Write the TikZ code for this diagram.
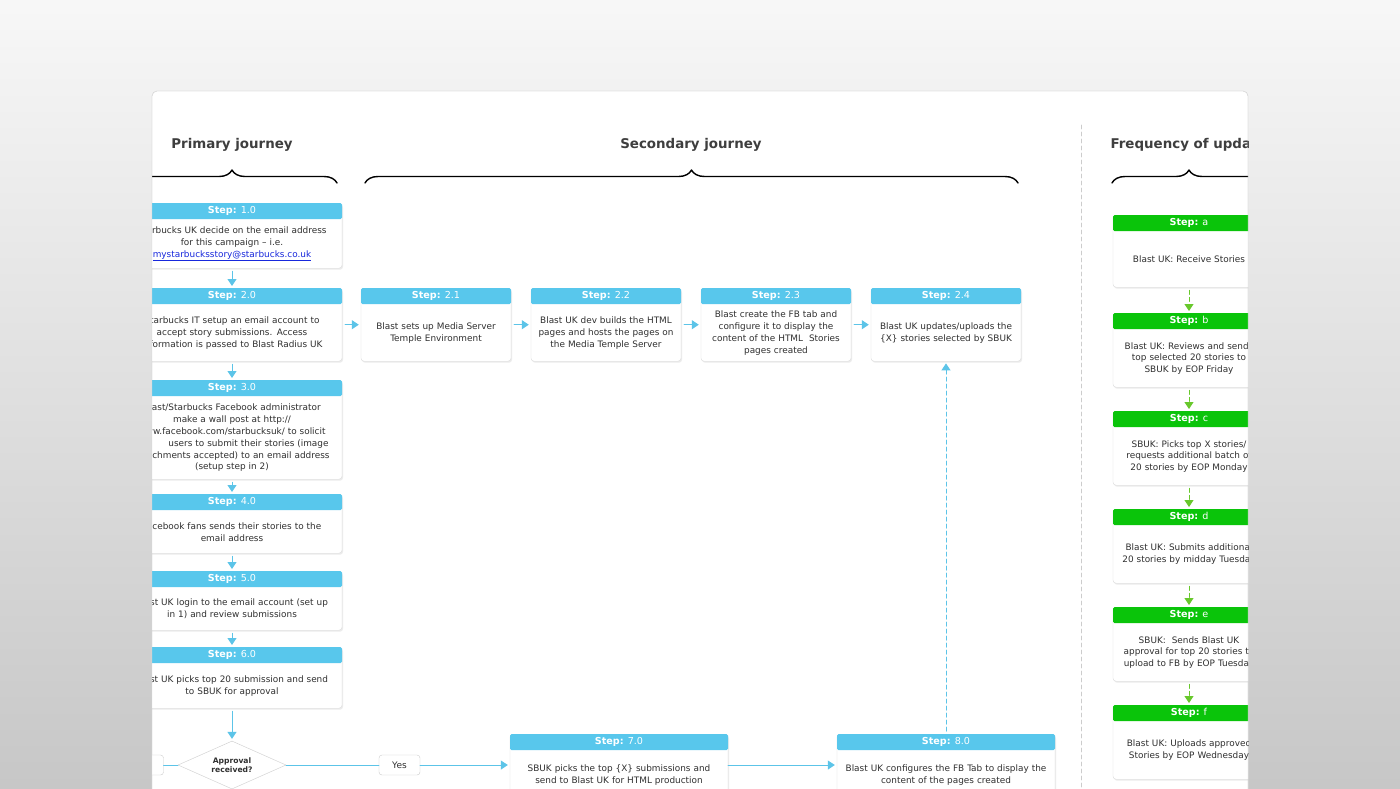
\documentclass[tikz,border=0pt]{standalone}
\usepackage{fontspec}
\setmainfont{DejaVu Sans}
\usetikzlibrary{positioning,calc,shapes.geometric,shadows,decorations.pathreplacing,arrows.meta}
\definecolor{stepblue}{RGB}{88,199,236}
\definecolor{flowblue}{RGB}{92,196,232}
\definecolor{stepgreen}{RGB}{10,196,10}
\definecolor{flowgreen}{RGB}{104,200,44}
\definecolor{ink}{RGB}{48,48,48}
\definecolor{headink}{RGB}{62,62,62}
\definecolor{linkblue}{RGB}{24,40,220}
% name, centre x, top y, width, height, header colour, step label, text
\newcommand{\stepcard}[8]{%
  \pgfmathsetmacro\cardtw{#4-10}%
  \node[card,minimum width=#4,minimum height=#5,anchor=north] (#1) at (#2,#3) {};
  \node[cardhead,fill=#6,minimum width=#4,anchor=north] (#1h) at (#1.north) {\textbf{Step:} #7};
  \node[cardtext,text width=\cardtw pt] (#1t) at ($(#1h.south)!0.5!(#1.south)$) {#8};}
\begin{document}
\begin{tikzpicture}[x=1pt,y=-1pt,line join=round,line cap=round,>={Triangle[length=7pt,width=9pt]}]
	\tikzset{
		card/.style={draw=gray!28,fill=white,rounded corners=3pt,drop shadow={shadow xshift=1pt,shadow yshift=-1.5pt,opacity=0.15}},
		cardhead/.style={text=white,font=\fontsize{9.6}{11}\selectfont,minimum height=16,inner sep=0pt,rounded corners=1.5pt},
		cardtext/.style={text=ink,font=\fontsize{8.9}{11.8}\selectfont,align=center,inner sep=0pt},
		flow/.style={->,draw=flowblue,line width=1pt,shorten <=3pt,shorten >=2pt},
		flowdash/.style={flow,dash pattern=on 4pt off 3pt},
		greenflow/.style={->,draw=flowgreen,line width=1pt,dash pattern=on 4pt off 3pt,shorten <=3pt,shorten >=2pt},
		plainline/.style={draw=flowblue,line width=1pt},
		choice/.style={diamond,draw=gray!40,fill=white,aspect=2.25,minimum width=108,minimum height=48,inner sep=0pt,text=ink,font=\fontsize{7.6}{9.5}\selectfont\bfseries,align=center},
		answer/.style={draw=gray!40,fill=white,rounded corners=3pt,minimum width=41,minimum height=20,inner sep=0pt,text=ink,font=\fontsize{9}{10}\selectfont},
		heading/.style={text=headink,font=\fontsize{13.4}{16}\selectfont\bfseries},
		brace/.style={decorate,decoration={brace,amplitude=13pt},line width=1.4pt}
	}
	\useasboundingbox (0,0) rectangle (1400,788);
	\shade[top color=white!97!black,bottom color=black!22] (0,0) rectangle (1400,788);
	\draw[gray!30,fill=white,rounded corners=5pt] (152,91) rectangle (1248,820);
	\begin{scope}
		\clip (152,91) rectangle (1248,788);
		\node[heading] (primary) at (232,145) {Primary journey};
		\node[heading] (secondary) at (691,145) {Secondary journey};
		\node[heading,anchor=west] (frequency) at (1107,145) {Frequency of updates};
		\draw[brace] (127,183) -- (337,183);
		\draw[brace] (365,183) -- (1018,183);
		\draw[brace] (1112,183) -- (1266,183);
		\draw[gray!40,line width=0.8pt,dash pattern=on 4pt off 3pt] (1081,125) -- (1081,788);
		% primary journey
		\stepcard{s10}{232}{203}{220}{65}{stepblue}{1.0}{Starbucks UK decide on the email address\\for this campaign -- i.e.\\\textcolor{linkblue}{\underline{mystarbucksstory@starbucks.co.uk}}}
		\stepcard{s20}{232}{288}{220}{73}{stepblue}{2.0}{Starbucks IT setup an email account to\\accept story submissions. Access\\information is passed to Blast Radius UK}
		\stepcard{s30}{232}{380}{220}{99}{stepblue}{3.0}{Blast/Starbucks Facebook administrator\\make a wall post at http://\\www.facebook.com/starbucksuk/ to solicit\\\hspace*{33pt}users to submit their stories (image\\attachments accepted) to an email address\\(setup step in 2)}
		\stepcard{s40}{232}{494}{220}{59}{stepblue}{4.0}{Facebook fans sends their stories to the\\email address}
		\stepcard{s50}{232}{571}{220}{59}{stepblue}{5.0}{Blast UK login to the email account (set up\\in 1) and review submissions}
		\stepcard{s60}{232}{647}{220}{61}{stepblue}{6.0}{Blast UK picks top 20 submission and send\\to SBUK for approval}
		\node[choice] (approval) at (232,765) {Approval\\received?};
		\node[answer] (no) at (143,765) {};
		\node[answer] (yes) at (399.5,765) {Yes};
		% secondary journey
		\stepcard{s21}{436}{288}{150}{73}{stepblue}{2.1}{Blast sets up Media Server\\Temple Environment}
		\stepcard{s22}{606}{288}{150}{73}{stepblue}{2.2}{Blast UK dev builds the HTML\\pages and hosts the pages on\\the Media Temple Server}
		\stepcard{s23}{776}{288}{150}{73}{stepblue}{2.3}{Blast create the FB tab and\\configure it to display the\\content of the HTML\ \ Stories\\pages created}
		\stepcard{s24}{946}{288}{150}{73}{stepblue}{2.4}{Blast UK updates/uploads the\\\{X\} stories selected by SBUK}
		\stepcard{s70}{619}{734}{218}{65}{stepblue}{7.0}{SBUK picks the top \{X\} submissions and\\send to Blast UK for HTML production}
		\stepcard{s80}{946}{734}{218}{65}{stepblue}{8.0}{Blast UK configures the FB Tab to display the\\content of the pages created}
		% frequency of updates
		\stepcard{fa}{1189}{215}{152}{72}{stepgreen}{a}{Blast UK: Receive Stories}
		\stepcard{fb}{1189}{313}{152}{74}{stepgreen}{b}{Blast UK: Reviews and sends\\top selected 20 stories to\\SBUK by EOP Friday}
		\stepcard{fc}{1189}{411}{152}{74}{stepgreen}{c}{SBUK: Picks top X stories/\\requests additional batch of\\20 stories by EOP Monday}
		\stepcard{fd}{1189}{509}{152}{74}{stepgreen}{d}{Blast UK: Submits additional\\20 stories by midday Tuesday}
		\stepcard{fe}{1189}{607}{152}{74}{stepgreen}{e}{SBUK:\ \ Sends Blast UK\\approval for top 20 stories to\\upload to FB by EOP Tuesday}
		\stepcard{ff}{1189}{705}{152}{74}{stepgreen}{f}{Blast UK: Uploads approved\\Stories by EOP Wednesday}
		% connectors
		\draw[flow] (s10.south) -- (s20.north);
		\draw[flow] (s20.south) -- (s30.north);
		\draw[flow] (s30.south) -- (s40.north);
		\draw[flow] (s40.south) -- (s50.north);
		\draw[flow] (s50.south) -- (s60.north);
		\draw[flow] (s60.south) -- (approval.north);
		\draw[plainline] (approval.west) -- (no.east);
		\draw[plainline] (approval.east) -- (yes.west);
		\draw[flow,shorten <=0pt] (yes.east) -- (yes.east -| s70.west);
		\draw[flow,shorten <=0pt] (s70.east |- yes.east) -- (yes.east -| s80.west);
		\draw[flowdash] (s80.north) -- (s24.south);
		\draw[flow] (s20.east) -- (s21.west);
		\draw[flow] (s21.east) -- (s22.west);
		\draw[flow] (s22.east) -- (s23.west);
		\draw[flow] (s23.east) -- (s24.west);
		\draw[greenflow] (fa.south) -- (fb.north);
		\draw[greenflow] (fb.south) -- (fc.north);
		\draw[greenflow] (fc.south) -- (fd.north);
		\draw[greenflow] (fd.south) -- (fe.north);
		\draw[greenflow] (fe.south) -- (ff.north);
	\end{scope}
	\draw[gray!30,rounded corners=5pt] (152,820) -- (152,91) -- (1248,91) -- (1248,820);
\end{tikzpicture}
\end{document}
